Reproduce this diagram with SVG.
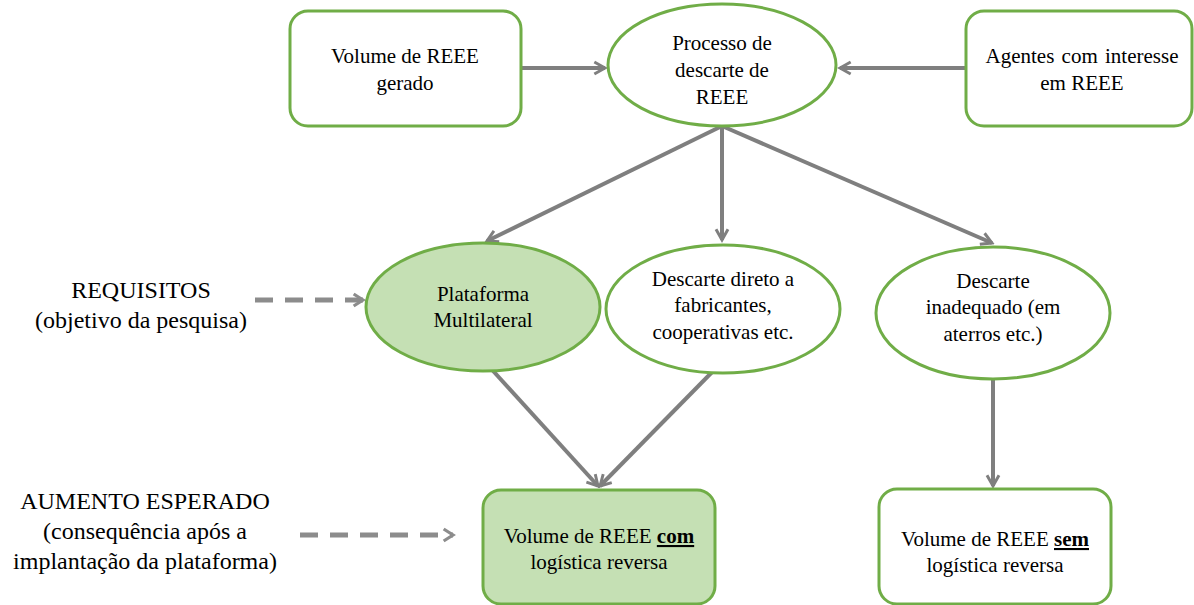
<svg xmlns="http://www.w3.org/2000/svg" width="1194" height="605" viewBox="0 0 1194 605">
<defs>
<marker id="ah" viewBox="0 0 12 12" refX="10" refY="6" markerWidth="4" markerHeight="4" orient="auto" markerUnits="strokeWidth">
<polyline points="2,1.5 10,6 2,10.5" fill="none" stroke="#7f7f7f" stroke-width="2.2"/>
</marker>
<marker id="ahd" viewBox="0 0 12 12" refX="10" refY="6" markerWidth="3.2" markerHeight="3.2" orient="auto" markerUnits="strokeWidth">
<polyline points="3,1.5 10,6 3,10.5" fill="none" stroke="#8c8c8c" stroke-width="2.4"/>
</marker>
<style>
.box{fill:#ffffff;stroke:#70ad47;stroke-width:3}
.fill{fill:#c5e0b4;stroke:#70ad47;stroke-width:3}
.c{fill:none;stroke:#7f7f7f;stroke-width:4;marker-end:url(#ah)}
.d{fill:none;stroke:#8c8c8c;stroke-width:5;stroke-dasharray:18 12;marker-end:url(#ahd)}
</style>
</defs>
<rect width="1194" height="605" fill="#ffffff"/>
<g id="connectors">
<line class="c" x1="522" y1="68" x2="605" y2="68"/>
<line class="c" x1="966" y1="68" x2="840" y2="68"/>
<line class="c" x1="722" y1="126" x2="487" y2="241"/>
<line class="c" x1="722" y1="126" x2="722" y2="240"/>
<line class="c" x1="722" y1="126" x2="992" y2="243"/>
<line class="c" x1="485" y1="362" x2="598" y2="486"/>
<line class="c" x1="722" y1="362" x2="600" y2="486"/>
<line class="c" x1="993" y1="364" x2="993" y2="486"/>
<line class="d" x1="255" y1="300" x2="363" y2="300"/>
<line class="d" x1="300" y1="535" x2="453" y2="535"/>
</g>
<g id="n-gerado">
<rect class="box" x="290" y="11" width="231" height="115" rx="18"/>
<text font-family="Times New Roman" font-size="21" text-anchor="middle" x="405" y="63">Volume de REEE</text>
<text font-family="Times New Roman" font-size="21" text-anchor="middle" x="405" y="90">gerado</text>
</g>
<g id="n-processo">
<ellipse class="box" cx="722" cy="65" rx="114" ry="61"/>
<text font-family="Times New Roman" font-size="21" text-anchor="middle" x="722" y="50">Processo de</text>
<text font-family="Times New Roman" font-size="21" text-anchor="middle" x="722" y="77">descarte de</text>
<text font-family="Times New Roman" font-size="21" text-anchor="middle" x="722" y="104">REEE</text>
</g>
<g id="n-agentes">
<rect class="box" x="966" y="11" width="226" height="115" rx="18"/>
<text font-family="Times New Roman" font-size="21" text-anchor="middle" x="1082" y="63" word-spacing="2">Agentes com interesse</text>
<text font-family="Times New Roman" font-size="21" text-anchor="middle" x="1082" y="90">em REEE</text>
</g>
<g id="n-plataforma">
<ellipse class="fill" cx="483" cy="307" rx="117" ry="64"/>
<text font-family="Times New Roman" font-size="21" text-anchor="middle" x="483" y="301">Plataforma</text>
<text font-family="Times New Roman" font-size="21" text-anchor="middle" x="483" y="327">Multilateral</text>
</g>
<g id="n-direto">
<ellipse class="box" cx="723" cy="309" rx="117" ry="64"/>
<text font-family="Times New Roman" font-size="21" text-anchor="middle" x="723" y="286">Descarte direto a</text>
<text font-family="Times New Roman" font-size="21" text-anchor="middle" x="723" y="312">fabricantes,</text>
<text font-family="Times New Roman" font-size="21" text-anchor="middle" x="723" y="339">cooperativas etc.</text>
</g>
<g id="n-inadequado">
<ellipse class="box" cx="993" cy="313" rx="117" ry="66"/>
<text font-family="Times New Roman" font-size="21" text-anchor="middle" x="993" y="288">Descarte</text>
<text font-family="Times New Roman" font-size="21" text-anchor="middle" x="993" y="314">inadequado (em</text>
<text font-family="Times New Roman" font-size="21" text-anchor="middle" x="993" y="341">aterros etc.)</text>
</g>
<g id="n-requisitos">
<text font-family="Times New Roman" font-size="24" text-anchor="middle" x="141" y="298">REQUISITOS</text>
<text font-family="Times New Roman" font-size="24" text-anchor="middle" x="141" y="328">(objetivo da pesquisa)</text>
</g>
<g id="n-com">
<rect class="fill" x="483" y="490" width="232" height="114" rx="18"/>
<text font-family="Times New Roman" font-size="21" text-anchor="middle" x="599" y="543">Volume de REEE <tspan font-weight="bold" text-decoration="underline">com</tspan></text>
<text font-family="Times New Roman" font-size="21" text-anchor="middle" x="599" y="569">logística reversa</text>
</g>
<g id="n-sem">
<rect class="box" x="879" y="489" width="232" height="115" rx="18"/>
<text font-family="Times New Roman" font-size="21" text-anchor="middle" x="995" y="546">Volume de REEE <tspan font-weight="bold" text-decoration="underline">sem</tspan></text>
<text font-family="Times New Roman" font-size="21" text-anchor="middle" x="995" y="572">logística reversa</text>
</g>
<g id="n-aumento">
<text font-family="Times New Roman" font-size="24" text-anchor="middle" x="145" y="509">AUMENTO ESPERADO</text>
<text font-family="Times New Roman" font-size="24" text-anchor="middle" x="145" y="539">(consequência após a</text>
<text font-family="Times New Roman" font-size="24" text-anchor="middle" x="145" y="569">implantação da plataforma)</text>
</g>
</svg>
